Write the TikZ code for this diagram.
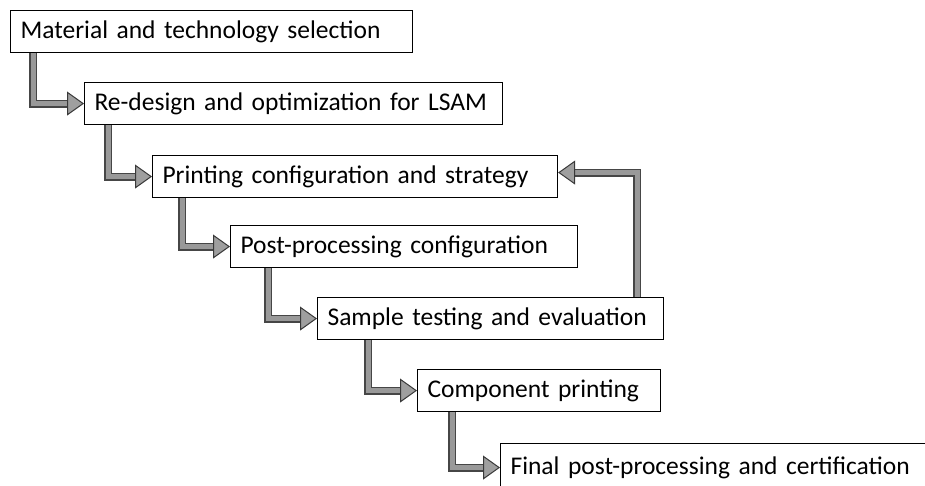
\documentclass[tikz,border=0pt]{standalone}
\usepackage{fontspec}
\setmainfont{Carlito}
\usetikzlibrary{arrows.meta, positioning}

\begin{document}
\begin{tikzpicture}[x=1pt, y=-1pt]

	\tikzset{stage/.style={
			draw, line width=1.1pt,
			anchor=north west,
			minimum height=42pt,
			inner xsep=10pt, inner ysep=0pt,
			align=left,
			text width=#1,
			font=\fontsize{25.5}{30}\selectfont
		},
		stage/.default=300pt,
		flowback/.style={line width=8pt, draw=gray!55!black, shorten >=14pt},
		flowfront/.style={line width=5pt, draw=gray!80,
			-{Triangle[length=17pt, width=24pt, line width=1pt, fill=gray!75, color=gray!45!black]}}
	}

	\useasboundingbox (0,0) rectangle (925,485);
	\clip (0,0) rectangle (925,485);

	\node[stage=382pt] (mat)    at (10,10)  {Material and technology selection};
	\node[stage=398pt] (redes)  at (84,82)  {Re-design and optimization for LSAM};
	\node[stage=385pt] (prcfg)  at (152,155) {Printing configuration and strategy};
	\node[stage=327pt] (ppcfg)  at (230,225) {Post-processing configuration};
	\node[stage=326pt] (sample) at (317,297) {Sample testing and evaluation};
	\node[stage=223pt] (comp)   at (417,369) {Component printing};
	\node[stage=440pt, minimum height=48pt] (final) at (500,443) {Final post-processing and certification};

	% forward chain
	\foreach \a/\b/\dx in {mat/redes/23, redes/prcfg/24, prcfg/ppcfg/30, ppcfg/sample/38, sample/comp/51, comp/final/35}{
		\draw[flowback]  ([xshift=\dx pt]\a.south west) |- (\b.west);
		\draw[flowfront] ([xshift=\dx pt]\a.south west) |- (\b.west);
	}

	% feedback loop
	\draw[flowback]  ([xshift=-27pt]sample.north east) |- ([yshift=4pt]prcfg.east);
	\draw[flowfront] ([xshift=-27pt]sample.north east) |- ([yshift=4pt]prcfg.east);

\end{tikzpicture}
\end{document}
